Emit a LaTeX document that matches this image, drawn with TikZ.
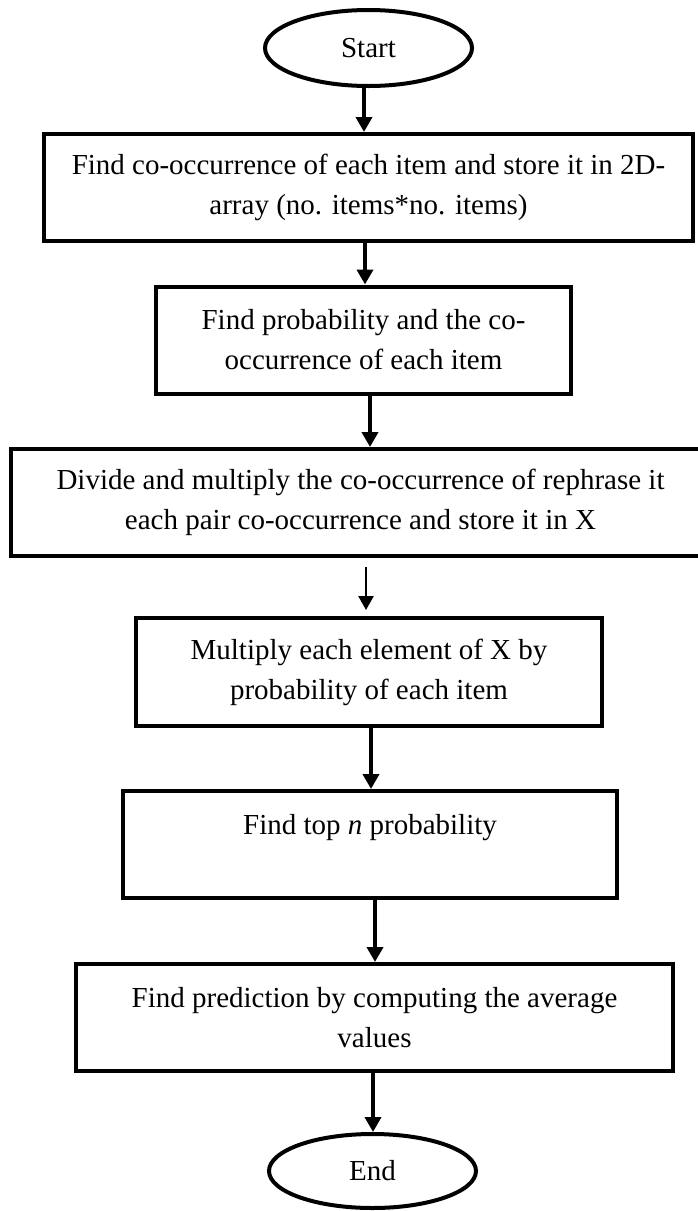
\documentclass[tikz,border=0pt]{standalone}
\usepackage{fontspec}
\setmainfont{Liberation Serif}
\usetikzlibrary{arrows.meta,shapes.geometric}
\begin{document}
\begin{tikzpicture}[x=1pt,y=-1pt,
  every node/.style={font=\fontsize{29}{40}\selectfont},
  stepbox/.style={draw,fill=white,line width=4pt,rectangle,align=center,inner sep=0pt},
  terminal/.style={draw,fill=white,line width=4pt,ellipse,inner sep=0pt,
    minimum width=207pt},
  flow/.style={line width=4pt,-{Triangle[length=15pt,width=16pt]}},
  thinflow/.style={line width=2.6pt,-{Triangle[length=14pt,width=15pt]}},
]
\useasboundingbox (0,0) rectangle (698,1211);

% terminals
\node[terminal,minimum height=76pt] (start) at (368.5,48) {Start};
\node[terminal,minimum height=74pt] (end) at (372.5,1171) {End};

% process steps
\node[stepbox,minimum width=649pt,minimum height=107pt] (b1) at (368.5,187.5)
  {Find co-occurrence of each item and store it in 2D-\\array (no. items*no. items)};
\node[stepbox,minimum width=415pt,minimum height=107pt] (b2) at (363.5,340)
  {Find probability and the co-\\occurrence of each item};
\node[stepbox,minimum width=699pt,minimum height=107pt] (b3) at (360.5,502.5)
  {Divide and multiply the co-occurrence of rephrase it\\each pair co-occurrence and store it in X};
\node[stepbox,minimum width=466pt,minimum height=108pt] (b4) at (369,672)
  {Multiply each element of X by\\probability of each item};
\node[stepbox,minimum width=494pt,minimum height=107pt] (b5) at (370,844.5)
  {Find top \textit{n} probability\\~};
\node[stepbox,minimum width=597pt,minimum height=107pt] (b6) at (374.5,1017.5)
  {Find prediction by computing the average\\values};

% connectors
\draw[flow] ([xshift=-4.5pt]start.south) -- ([xshift=-4.5pt]b1.north);
\draw[flow] ([xshift=-3.5pt]b1.south) -- ([xshift=1.5pt]b2.north);
\draw[flow] ([xshift=6.5pt]b2.south) -- ([xshift=9.5pt]b3.north);
\draw[thinflow] ([xshift=5.5pt,yshift=-9pt]b3.south) -- ([xshift=-3pt,yshift=6pt]b4.north);
\draw[flow] ([xshift=2pt]b4.south) -- ([xshift=1pt]b5.north);
\draw[flow] ([xshift=5pt]b5.south) -- ([xshift=0.5pt]b6.north);
\draw[flow] ([xshift=-1.5pt]b6.south) -- ([xshift=0.5pt]end.north);
\end{tikzpicture}
\end{document}
